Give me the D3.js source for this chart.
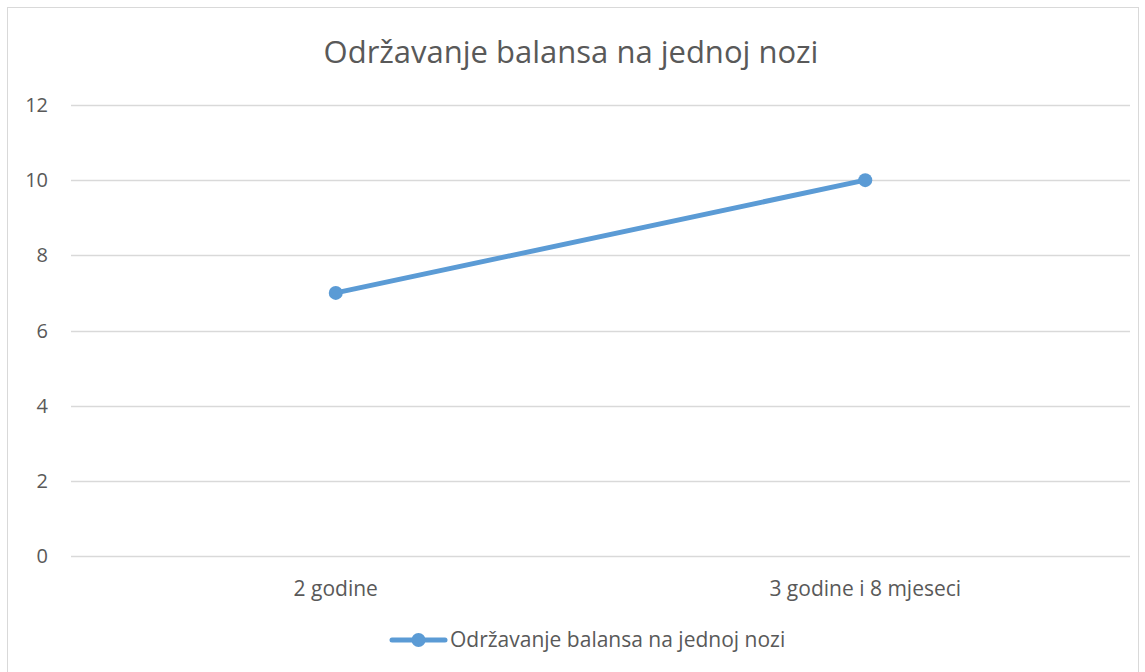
<!DOCTYPE html>
<html><head><meta charset="utf-8">
<script src="https://cdn.jsdelivr.net/npm/d3@7"></script>
<style>body{margin:0;background:#fff}svg{display:block}</style>
</head><body>
<script>
const categories = ["2 godine", "3 godine i 8 mjeseci"];
const values = [7, 10];
const yTicks = [0, 2, 4, 6, 8, 10, 12];
const seriesName = "Održavanje balansa na jednoj nozi";
const title = "Održavanje balansa na jednoj nozi";

const W = 1145, H = 672;
const font = "'Open Sans', sans-serif";
const svg = d3.select("body").append("svg").attr("width", W).attr("height", H);
svg.append("rect").attr("x", 7.5).attr("y", 7.5).attr("width", 1131).attr("height", 670)
  .attr("fill", "#fff").attr("stroke", "#d9d9d9").attr("stroke-width", 1);

const x = d3.scaleBand().domain(categories).range([71, 1130]);
const y = d3.scaleLinear().domain([0, 12]).range([556, 105]);

svg.append("g").selectAll("line").data(yTicks).join("line")
  .attr("x1", 71).attr("x2", 1130)
  .attr("y1", d => Math.round(y(d)) + 0.5).attr("y2", d => Math.round(y(d)) + 0.5)
  .attr("stroke", "#d9d9d9").attr("stroke-width", 1.5);

svg.append("g").selectAll("text").data(yTicks).join("text")
  .attr("x", 48).attr("y", d => y(d)).attr("dy", "0.35em")
  .attr("text-anchor", "end").attr("font-family", font).attr("font-size", 20)
  .attr("fill", "#595959").text(d => d);

svg.append("g").selectAll("text").data(categories).join("text")
  .attr("x", d => x(d) + x.bandwidth() / 2).attr("y", 596)
  .attr("text-anchor", "middle").attr("font-family", font).attr("font-size", 21)
  .attr("fill", "#595959").text(d => d);

svg.append("text").attr("x", 571).attr("y", 63).attr("text-anchor", "middle")
  .attr("font-family", font).attr("font-size", 31).attr("fill", "#595959").text(title);

const pts = categories.map((c, i) => [x(c) + x.bandwidth() / 2, y(values[i])]);
svg.append("path").attr("d", d3.line()(pts)).attr("fill", "none")
  .attr("stroke", "#5b9bd5").attr("stroke-width", 5).attr("stroke-linecap", "round");
svg.append("g").selectAll("circle").data(pts).join("circle")
  .attr("cx", d => d[0]).attr("cy", d => d[1]).attr("r", 7).attr("fill", "#5b9bd5");

const lg = svg.append("g");
lg.append("line").attr("x1", 392).attr("x2", 445).attr("y1", 640).attr("y2", 640)
  .attr("stroke", "#5b9bd5").attr("stroke-width", 5).attr("stroke-linecap", "round");
lg.append("circle").attr("cx", 418.5).attr("cy", 640).attr("r", 7).attr("fill", "#5b9bd5");
lg.append("text").attr("x", 450).attr("y", 640).attr("dy", "0.35em")
  .attr("font-family", font).attr("font-size", 21).attr("fill", "#595959").text(seriesName);
</script>
</body></html>
